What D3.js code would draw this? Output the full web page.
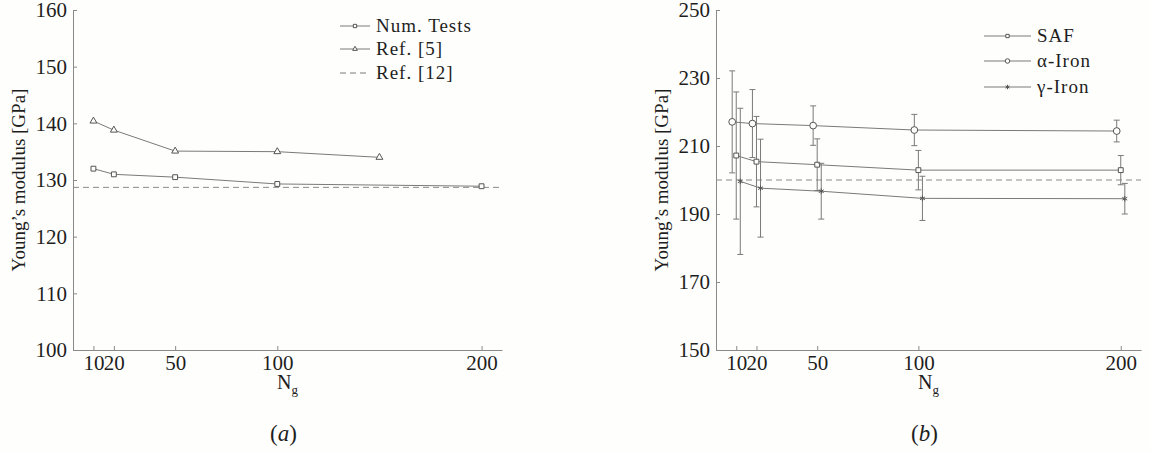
<!DOCTYPE html>
<html>
<head>
<meta charset="utf-8">
<script src="https://cdn.jsdelivr.net/npm/d3@7"></script>
<style>
    body { margin: 0; background: #fefefc; }
    svg { display: block; font-family: "Liberation Serif", "Times New Roman", serif; }
</style>
</head>
<body>
<svg id="chart" width="1151" height="452"></svg>
<script>
// ---- data ----
const xTicks = [10, 20, 50, 100, 200];

// (a)
const ngNum = [10, 20, 50, 100, 200];
const numTests = [132.0, 131.0, 130.5, 129.3, 128.9];
const ngRef5 = [10, 20, 50, 100, 150];
const ref5 = [140.4, 138.8, 135.1, 135.0, 134.0];
const ref12 = 128.7;
const yTicksA = [100, 110, 120, 130, 140, 150, 160];

// (b)
const ngIron = [10, 20, 50, 100, 200];
const saf = [207.2, 205.4, 204.5, 202.9, 202.9];
const safErr = [18.7, 13.3, 7.6, 5.8, 4.3];
const alphaIron = [217.1, 216.6, 216.0, 214.7, 214.4];
const alphaErr = [15.0, 10.0, 5.8, 4.6, 3.2];
const gammaIron = [199.6, 197.6, 196.7, 194.6, 194.5];
const gammaErr = [21.5, 14.4, 8.2, 6.5, 4.5];
const refB = 200;
const yTicksB = [150, 170, 190, 210, 230, 250];

const bg = "#fefefc";
const lineCol = "#7a7a7a";
const axisCol = "#8a8a8a";
const textCol = "#1e1e1e";

const markerPath = (type, size) => {
    const sym = {
        square: d3.symbolSquare2 || d3.symbolSquare,
        triangle: d3.symbolTriangle2 || d3.symbolTriangle,
        circle: d3.symbolCircle,
        star: d3.symbolAsterisk || d3.symbolCross,
    }[type];
    return d3.symbol(sym, size)();
};

const panelPlot = () => {
    let xRange;
    let yRange;
    let yDomain;
    let yTicks;
    let series;
    let refLine;
    let legend;
    let caption;

    const my = (selection) => {
        const x = d3.scaleLinear().domain([0, 210]).range(xRange);
        const y = d3.scaleLinear().domain(yDomain).range(yRange);

        // axes, ticks pointing inwards
        const xAxis = selection
            .append("g")
            .attr("transform", `translate(0,${yRange[0]})`)
            .call(d3.axisBottom(x).tickValues(xTicks).tickSizeInner(-4).tickSizeOuter(0).tickPadding(5));
        const yAxis = selection
            .append("g")
            .attr("transform", `translate(${xRange[0]},0)`)
            .call(d3.axisLeft(y).tickValues(yTicks).tickSizeInner(-4).tickSizeOuter(0).tickPadding(6));

        [xAxis, yAxis].forEach((a) => {
            a.attr("font-family", null).attr("font-size", 21);
            a.selectAll("path, line").attr("stroke", axisCol);
            a.selectAll("text").attr("fill", textCol);
        });

        // reference (dashed) line
        selection
            .append("line")
            .attr("x1", xRange[0])
            .attr("x2", xRange[1])
            .attr("y1", y(refLine))
            .attr("y2", y(refLine))
            .attr("stroke", axisCol)
            .attr("stroke-dasharray", "6,4");

        const line = d3
            .line()
            .x((d) => x(d.ng))
            .y((d) => y(d.v));

        series.forEach((s) => {
            const pts = s.ng.map((n, i) => ({
                ng: n + (s.shift || 0),
                v: s.values[i],
                e: s.err ? s.err[i] : 0,
            }));

            const g = selection.append("g");

            if (s.err) {
                const bars = g
                    .selectAll(".err")
                    .data(pts)
                    .join("g")
                    .attr("stroke", lineCol);
                bars.append("line")
                    .attr("x1", (d) => x(d.ng))
                    .attr("x2", (d) => x(d.ng))
                    .attr("y1", (d) => y(d.v - d.e))
                    .attr("y2", (d) => y(d.v + d.e));
                [-1, 1].forEach((sg) => {
                    bars.append("line")
                        .attr("x1", (d) => x(d.ng) - 3)
                        .attr("x2", (d) => x(d.ng) + 3)
                        .attr("y1", (d) => y(d.v + sg * d.e))
                        .attr("y2", (d) => y(d.v + sg * d.e));
                });
            }

            g.append("path")
                .datum(pts)
                .attr("d", line)
                .attr("fill", "none")
                .attr("stroke", lineCol);

            g.selectAll(".mark")
                .data(pts)
                .join("path")
                .attr("class", "mark")
                .attr("transform", (d) => `translate(${x(d.ng)},${y(d.v)})`)
                .attr("d", markerPath(s.marker, s.size))
                .attr("fill", s.marker === "star" ? "none" : bg)
                .attr("stroke", "#555");
        });

        // legend
        const leg = selection
            .append("g")
            .selectAll(".leg")
            .data(legend.items)
            .join("g")
            .attr("transform", (d, i) => `translate(${legend.x},${legend.rows[i]})`);

        leg.append("line")
            .attr("x1", 0)
            .attr("x2", legend.len)
            .attr("stroke", lineCol)
            .attr("stroke-dasharray", (d) => (d.dashed ? "6,4" : null));

        leg.filter((d) => d.marker)
            .append("path")
            .attr("transform", `translate(${legend.len / 2},0)`)
            .attr("d", (d) => markerPath(d.marker, d.size))
            .attr("fill", (d) => (d.marker === "star" ? "none" : bg))
            .attr("stroke", "#555");

        leg.append("text")
            .attr("x", legend.len + 6)
            .attr("dy", "0.33em")
            .attr("font-size", 19)
            .attr("letter-spacing", 1)
            .attr("fill", textCol)
            .text((d) => d.name);

        // axis titles
        const mid = (xRange[0] + xRange[1]) / 2;
        const xt = selection
            .append("text")
            .attr("x", mid)
            .attr("y", yRange[0] + 39)
            .attr("text-anchor", "middle")
            .attr("font-size", 20)
            .attr("fill", textCol);
        xt.append("tspan").text("N");
        xt.append("tspan").attr("font-size", 13).attr("dy", 5).text("g");

        selection
            .append("text")
            .attr("transform", `translate(${xRange[0] - 48},${(yRange[0] + yRange[1]) / 2}) rotate(-90)`)
            .attr("text-anchor", "middle")
            .attr("font-size", 19)
            .attr("fill", textCol)
            .text("Young\u2019s modulus [GPa]");

        const cap = selection
            .append("text")
            .attr("x", mid - 4)
            .attr("y", 441)
            .attr("text-anchor", "middle")
            .attr("font-size", 23)
            .attr("fill", textCol);
        cap.append("tspan").text("(");
        cap.append("tspan").attr("font-style", "italic").text(caption);
        cap.append("tspan").text(")");
    };

    my.xRange = function (_) {
        return arguments.length ? ((xRange = _), my) : xRange;
    };
    my.yRange = function (_) {
        return arguments.length ? ((yRange = _), my) : yRange;
    };
    my.yDomain = function (_) {
        return arguments.length ? ((yDomain = _), my) : yDomain;
    };
    my.yTicks = function (_) {
        return arguments.length ? ((yTicks = _), my) : yTicks;
    };
    my.series = function (_) {
        return arguments.length ? ((series = _), my) : series;
    };
    my.refLine = function (_) {
        return arguments.length ? ((refLine = _), my) : refLine;
    };
    my.legend = function (_) {
        return arguments.length ? ((legend = _), my) : legend;
    };
    my.caption = function (_) {
        return arguments.length ? ((caption = _), my) : caption;
    };

    return my;
};

const svg = d3.select("#chart");
svg.append("rect").attr("width", 1151).attr("height", 452).attr("fill", bg);

const plotA = panelPlot()
    .xRange([73, 502])
    .yRange([350, 10])
    .yDomain([100, 160])
    .yTicks(yTicksA)
    .refLine(ref12)
    .series([
        { ng: ngNum, values: numTests, marker: "square", size: 30 },
        { ng: ngRef5, values: ref5, marker: "triangle", size: 34 },
    ])
    .legend({
        x: 340,
        len: 30,
        rows: [26, 49, 73],
        items: [
            { name: "Num. Tests", marker: "square", size: 14 },
            { name: "Ref. [5]", marker: "triangle", size: 16 },
            { name: "Ref. [12]", dashed: true },
        ],
    })
    .caption("a");

const plotB = panelPlot()
    .xRange([716, 1141])
    .yRange([350, 10])
    .yDomain([150, 250])
    .yTicks(yTicksB)
    .refLine(refB)
    .series([
        { ng: ngIron, values: alphaIron, err: alphaErr, marker: "circle", size: 36, shift: -2 },
        { ng: ngIron, values: saf, err: safErr, marker: "square", size: 30, shift: 0 },
        { ng: ngIron, values: gammaIron, err: gammaErr, marker: "star", size: 22, shift: 2 },
    ])
    .legend({
        x: 984,
        len: 47,
        rows: [36, 61, 87],
        items: [
            { name: "SAF", marker: "square", size: 14 },
            { name: "\u03b1-Iron", marker: "circle", size: 16 },
            { name: "\u03b3-Iron", marker: "star", size: 14 },
        ],
    })
    .caption("b");

svg.append("g").call(plotA);
svg.append("g").call(plotB);
</script>
</body>
</html>
